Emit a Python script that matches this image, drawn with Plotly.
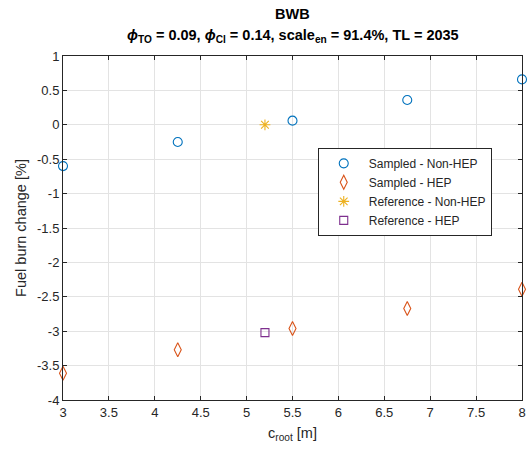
import plotly.graph_objects as go

# Root chord values for the sampled designs
c_root = [3.0, 4.25, 5.5, 6.75, 8.0]
fuel_non_hep = [-0.60, -0.25, 0.06, 0.36, 0.66]
fuel_hep = [-3.61, -3.27, -2.96, -2.67, -2.39]

# Reference design
c_root_ref = [5.2]
fuel_ref_non_hep = [0.0]
fuel_ref_hep = [-3.02]

x_ticks = [3, 3.5, 4, 4.5, 5, 5.5, 6, 6.5, 7, 7.5, 8]
y_ticks = [1, 0.5, 0, -0.5, -1, -1.5, -2, -2.5, -3, -3.5, -4]

BLUE = "#0072BD"
ORANGE = "#D95319"
YELLOW = "#EDB120"
PURPLE = "#7E2F8E"
AXIS = "#262626"
GRID = "#E3E3E3"
FONT = "Liberation Sans, Arial, sans-serif"

fig = go.Figure()
fig.add_trace(go.Scatter(
    x=c_root, y=fuel_non_hep, mode="markers", name="Sampled - Non-HEP",
    marker=dict(symbol="circle-open", size=9, color=BLUE, line=dict(width=1.1, color=BLUE)),
    cliponaxis=False))
fig.add_trace(go.Scatter(
    x=c_root, y=fuel_hep, mode="markers", name="Sampled - HEP",
    marker=dict(symbol="diamond-tall-open", size=10, color=ORANGE, line=dict(width=1.1, color=ORANGE)),
    cliponaxis=False))
fig.add_trace(go.Scatter(
    x=c_root_ref, y=fuel_ref_non_hep, mode="markers", name="Reference - Non-HEP",
    marker=dict(symbol="asterisk-open", size=9, color=YELLOW, line=dict(width=1.1, color=YELLOW)),
    cliponaxis=False))
fig.add_trace(go.Scatter(
    x=c_root_ref, y=fuel_ref_hep, mode="markers", name="Reference - HEP",
    marker=dict(symbol="square-open", size=8, color=PURPLE, line=dict(width=1.1, color=PURPLE)),
    cliponaxis=False))

axis_common = dict(
    showgrid=True, gridcolor=GRID, gridwidth=1,
    showline=True, linecolor=AXIS, linewidth=1, mirror="ticks",
    ticks="inside", ticklen=4, tickcolor=AXIS, tickwidth=1,
    zeroline=False, tickfont=dict(family=FONT, size=13, color=AXIS),
)

# Two-line bold title placed above the axes
title_lines = [
    ("<b>BWB</b>", 1.122),
    ("<b><i>ϕ</i><sub>TO</sub> = 0.09, <i>ϕ</i><sub>Cl</sub> = 0.14, "
     "scale<sub>en</sub> = 91.4%, TL = 2035</b>", 1.058),
]
annotations = [
    dict(text=t, x=0.5, y=y, xref="paper", yref="paper", xanchor="center",
         yanchor="middle", showarrow=False,
         font=dict(family=FONT, size=14.5, color="black"))
    for t, y in title_lines
]

fig.update_layout(
    width=532, height=454,
    margin=dict(l=63, r=6, t=56, b=54),
    paper_bgcolor="white", plot_bgcolor="white",
    font=dict(family=FONT, color=AXIS),
    annotations=annotations,
    xaxis=dict(
        range=[3, 8], tickvals=x_ticks, ticktext=[f"{v:g}" for v in x_ticks],
        title=dict(text="c<sub>root</sub> [m]", font=dict(family=FONT, size=14.5, color=AXIS), standoff=9),
        **axis_common),
    yaxis=dict(
        range=[-4, 1], tickvals=y_ticks, ticktext=[f"{v:g}" for v in y_ticks],
        title=dict(text="Fuel burn change [%]", font=dict(family=FONT, size=14.5, color=AXIS), standoff=6),
        **axis_common),
    legend=dict(
        x=0.555, y=0.733, xanchor="left", yanchor="top",
        bgcolor="white", bordercolor=AXIS, borderwidth=1,
        font=dict(family=FONT, size=12, color=AXIS),
        itemwidth=40, tracegroupgap=0,
    ),
    showlegend=True,
)

fig.write_html("out.html")
